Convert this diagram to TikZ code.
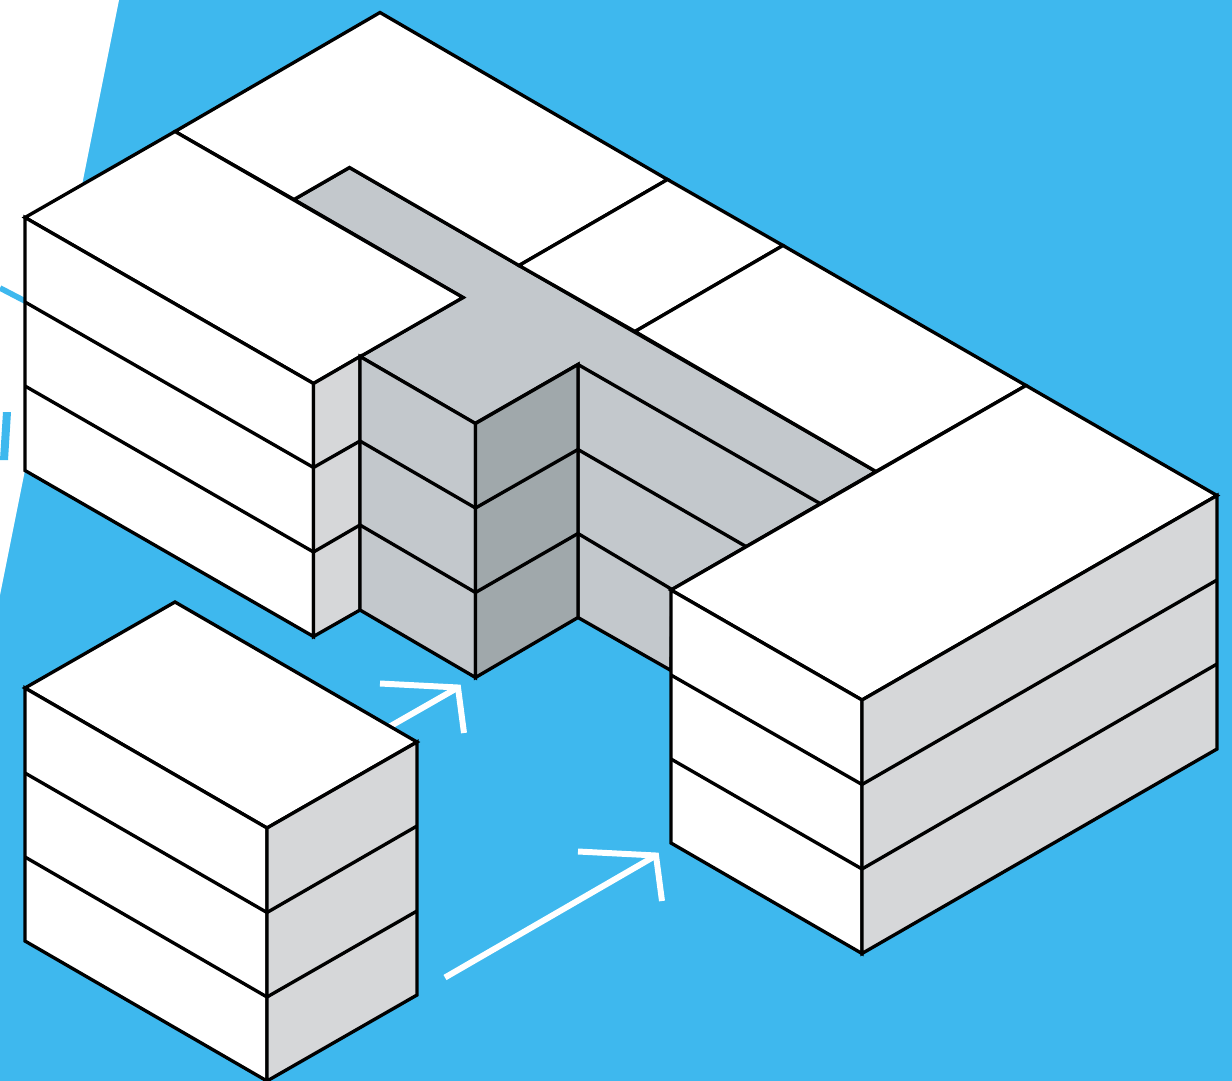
\documentclass[tikz,border=0pt]{standalone}
\usepackage{xcolor}
\definecolor{skyblue}{HTML}{3EB8EE}
\definecolor{sidegray}{HTML}{D6D7D9}
\definecolor{courtgray}{HTML}{C3C8CC}
\definecolor{darkgray}{HTML}{A0A8AB}

\begin{document}
\begin{tikzpicture}[
	x=0.01cm, y=-0.01cm,
	whiteface/.style={draw=black, fill=white, line width=.95pt},
	sideface/.style={draw=black, fill=sidegray, line width=.95pt},
	courtface/.style={draw=black, fill=courtgray, line width=.95pt},
	darkface/.style={draw=black, fill=darkgray, line width=.95pt},
	floorline/.style={draw=black, line width=.95pt},
	whitearrow/.style={draw=white, line width=1.7pt}
	]
	\useasboundingbox (0,0) rectangle (1232,1081);
	% background
	\fill[skyblue] (0,0) rectangle (1232,1081);
	\fill[white] (0,0) -- (119,0) -- (0,595) -- cycle;
	\draw[skyblue, line width=1.6pt] (0,288) -- (25,301);
	\fill[skyblue] (3,412) -- (11,412) -- (8,460) -- (0,460) -- cycle;
	
	% arrows
	\coordinate (arrow1-start) at (340,755);
	\coordinate (arrow1-tip) at (458,687.5);
	\coordinate (arrow2-start) at (445,977.5);
	\coordinate (arrow2-tip) at (656,855.5);
	\draw[whitearrow] (arrow1-start) -- (arrow1-tip);
	\draw[whitearrow] (380,683.5) -- (arrow1-tip) -- (464,733);
	\draw[whitearrow] (arrow2-start) -- (arrow2-tip);
	\draw[whitearrow] (578,851.5) -- (arrow2-tip) -- (662,901);
	
	% court
	\filldraw[courtface] (349.5,167.5) -- (876,471.5) -- (672,589.5) -- (671,670.5) -- (578,617.5) -- (578,364.5) -- (475,423.5) -- (360,356.5) -- (463,297.5) -- (294,199.5) -- cycle;
	\draw[floorline] (578,364.5) -- (820,503.5);
	\draw[floorline] (578,449.5) -- (746,546.5);
	\draw[floorline] (578,533.5) -- (672,589.5);
	
	% roof at the back
	\filldraw[whiteface] (175,131.5) -- (380,12.5) -- (667.5,179.5) -- (519,265.5) -- (349.5,167.5) -- (294,199.5) -- cycle;
	\filldraw[whiteface] (667.5,179.5) -- (783,245.5) -- (635,331.5) -- (519,265.5) -- cycle;
	\filldraw[whiteface] (783,245.5) -- (1026,385.5) -- (876,471.5) -- (635,331.5) -- cycle;
	
	% left wing
	\filldraw[whiteface] (25,217.5) -- (175,131.5) -- (463,297.5) -- (313.5,383.5) -- cycle;
	\filldraw[whiteface] (25,217.5) -- (313.5,383.5) -- (313.5,636.5) -- (25,470.5) -- cycle;
	\filldraw[sideface] (313.5,383.5) -- (360,356.5) -- (360,610) -- (313.5,636.5) -- cycle;
	\draw[floorline] (25,302) -- (313.5,467.5) -- (360,441);
	\draw[floorline] (25,386) -- (313.5,552) -- (360,525);
	
	% middle block
	\filldraw[courtface] (360,356.5) -- (475.5,423.5) -- (475.5,677.5) -- (360,610) -- cycle;
	\filldraw[darkface] (475.5,423.5) -- (578,364.5) -- (578,617.5) -- (475.5,677.5) -- cycle;
	\draw[floorline] (360,441) -- (475.5,508) -- (578,449.5);
	\draw[floorline] (360,525) -- (475.5,592.5) -- (578,533.5);
	
	% right wing
	\filldraw[whiteface] (1026,385.5) -- (1217,495.5) -- (862,700) -- (671,590) -- cycle;
	\filldraw[whiteface] (671,590) -- (862,700) -- (862,953.5) -- (671,843) -- cycle;
	\filldraw[sideface] (862,700) -- (1217,495.5) -- (1217,749) -- (862,953.5) -- cycle;
	\draw[floorline] (671,675) -- (862,784.5) -- (1217,580);
	\draw[floorline] (671,759) -- (862,869) -- (1217,664);
	
	% lower block
	\filldraw[whiteface] (25,688) -- (175,602) -- (417,742) -- (267,828) -- cycle;
	\filldraw[whiteface] (25,688) -- (267,828) -- (267,1081) -- (25,941) -- cycle;
	\filldraw[sideface] (267,828) -- (417,742) -- (417,995) -- (267,1081) -- cycle;
	\draw[floorline] (25,773) -- (267,912.5) -- (417,826);
	\draw[floorline] (25,857) -- (267,997) -- (417,911);
\end{tikzpicture}
\end{document}
